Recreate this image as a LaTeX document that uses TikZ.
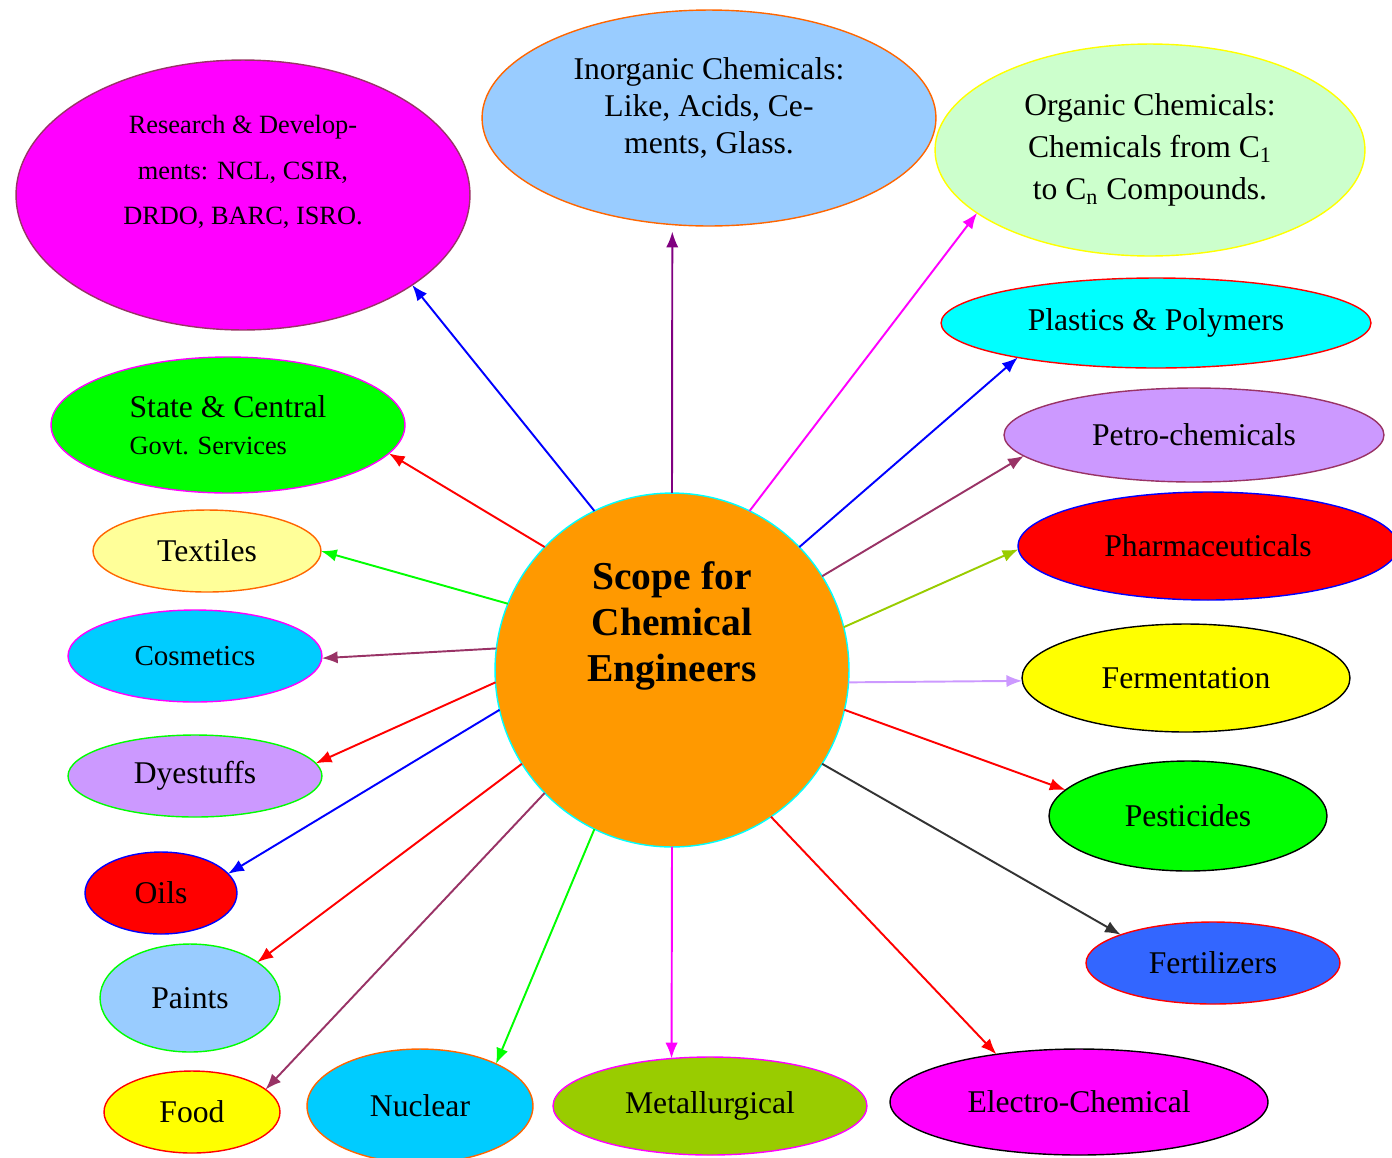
\documentclass[tikz,border=0pt]{standalone}
\usepackage{fontspec}
\setmainfont{Liberation Serif}
\usetikzlibrary{shapes.geometric, arrows.meta}
\definecolor{plum}{HTML}{993366}
\definecolor{skyblue}{HTML}{99CCFF}
\definecolor{mint}{HTML}{CCFFCC}
\definecolor{lilac}{HTML}{CC99FF}
\definecolor{leaf}{HTML}{99CC00}
\definecolor{royal}{HTML}{3366FF}
\definecolor{aqua}{HTML}{00CCFF}
\definecolor{cream}{HTML}{FFFF99}
\definecolor{amber}{HTML}{FF9900}
\definecolor{rust}{HTML}{FF6600}
\definecolor{grape}{HTML}{800080}
\definecolor{charcoal}{HTML}{333333}
\definecolor{brightgreen}{HTML}{00FF00}
\definecolor{fuchsia}{HTML}{FF00FF}
\definecolor{turquoise}{HTML}{00FFFF}
\definecolor{lemon}{HTML}{FFFF00}
\tikzstyle{bubble} = [draw, ellipse, line width=0.8pt, inner sep=0pt,
    outer sep=0pt, align=center, font=\fontsize{18}{21}\selectfont]
\tikzstyle{link} = [->, line width=1.1pt]

\begin{document}
\begin{tikzpicture}[x=0.02cm, y=-0.02cm, >={Latex[length=9pt,width=7pt]}]
    \useasboundingbox (0,0) rectangle (1392,1157);
    % hub
    \node [circle, draw=turquoise, fill=amber, line width=0.8pt, minimum size=7.08cm,
        inner sep=0pt, outer sep=0pt,
        label={[align=center, font=\bfseries\fontsize{22.5}{26}\selectfont, yshift=0.88cm]center:Scope for\\Chemical\\Engineers}]
        (scope) at (672,670) {};
    % upper ring
    \node [bubble, fill=fuchsia, draw=plum, minimum width=9.08cm, minimum height=5.4cm,
        label={[align=center, font=\fontsize{15}{26}\selectfont, yshift=0.46cm]center:Research \& Develop-\\ments: NCL, CSIR,\\DRDO, BARC, ISRO.}]
        (rnd) at (243,195) {};
    \node [bubble, fill=skyblue, draw=rust, minimum width=9.08cm, minimum height=4.32cm,
        label={[align=center, font=\fontsize{18}{21}\selectfont, yshift=0.2cm]center:Inorganic Chemicals:\\Like, Acids, Ce-\\ments, Glass.}]
        (inorg) at (709,118) {};
    \node [bubble, fill=mint, draw=lemon, minimum width=8.6cm, minimum height=4.24cm,
        font=\fontsize{18}{24}\selectfont]
        (org) at (1150,150) {Organic Chemicals:\\Chemicals from C\textsubscript{1}\\to C\textsubscript{n} Compounds.};
    % right side
    \node [bubble, fill=turquoise, draw=red, minimum width=8.6cm, minimum height=1.8cm] (plast) at (1156,323) {Plastics \& Polymers};
    \node [bubble, fill=lilac, draw=plum, minimum width=7.6cm, minimum height=1.88cm] (petro) at (1194,435) {Petro-chemicals};
    \node [bubble, fill=red, draw=blue, minimum width=7.6cm, minimum height=2.16cm] (pharma) at (1208,546) {Pharmaceuticals};
    \node [bubble, fill=lemon, draw=black, minimum width=6.56cm, minimum height=2.16cm] (ferment) at (1186,678) {Fermentation};
    \node [bubble, fill=brightgreen, draw=black, minimum width=5.56cm, minimum height=2.2cm] (pest) at (1188,816) {Pesticides};
    \node [bubble, fill=royal, draw=red, minimum width=5.08cm, minimum height=1.64cm] (fert) at (1213,963) {Fertilizers};
    % bottom row
    \node [bubble, fill=fuchsia, draw=black, minimum width=7.56cm, minimum height=2.12cm] (electro) at (1079,1102) {Electro-Chemical};
    \node [bubble, fill=leaf, draw=fuchsia, minimum width=6.28cm, minimum height=1.96cm] (metal) at (710,1106) {Metallurgical};
    \node [bubble, fill=aqua, draw=rust, minimum width=4.52cm, minimum height=2.28cm] (nuclear) at (420,1106) {Nuclear};
    \node [bubble, fill=lemon, draw=red, minimum width=3.52cm, minimum height=1.64cm] (food) at (192,1112) {Food};
    % left side
    \node [bubble, fill=skyblue, draw=brightgreen, minimum width=3.6cm, minimum height=2.16cm] (paints) at (190,998) {Paints};
    \node [bubble, fill=red, draw=blue, minimum width=3.04cm, minimum height=1.64cm] (oils) at (161,893) {Oils};
    \node [bubble, fill=lilac, draw=brightgreen, minimum width=5.08cm, minimum height=1.64cm] (dye) at (195,776) {Dyestuffs};
    \node [bubble, fill=aqua, draw=fuchsia, minimum width=5.08cm, minimum height=1.84cm,
        font=\fontsize{16.5}{20}\selectfont] (cosm) at (195,656) {Cosmetics};
    \node [bubble, fill=cream, draw=rust, minimum width=4.56cm, minimum height=1.64cm] (textile) at (207,551) {Textiles};
    \node [bubble, fill=brightgreen, draw=fuchsia, minimum width=7.08cm, minimum height=2.72cm,
        align=left] (govt) at (228,425) {State \& Central\\{\fontsize{15}{18}\selectfont Govt. Services}};
    % arrows out of the hub
    \draw [link, blue] (scope.116) -- (rnd.-28);
    \draw [link, grape, shorten >=0.14cm] (scope.90) -- (inorg.-109);
    \draw [link, fuchsia] (scope.64) -- (org.200);
    \draw [link, blue] (scope.44) -- (plast.194);
    \draw [link, plum] (scope.32) -- (petro.187);
    \draw [link, leaf] (scope.14) -- (pharma.181);
    \draw [link, lilac] (scope.-4) -- (ferment.181);
    \draw [link, red] (scope.-13) -- (pest.168);
    \draw [link, charcoal] (scope.-32) -- (fert.163);
    \draw [link, red] (scope.-56) -- (electro.150);
    \draw [link, fuchsia] (scope.-90) -- (metal.129);
    \draw [link, brightgreen] (scope.-116) -- (nuclear.29);
    \draw [link, plum] (scope.224) -- (food.17);
    \draw [link, red] (scope.212) -- (paints.28);
    \draw [link, blue] (scope.193) -- (oils.16);
    \draw [link, red] (scope.184) -- (dye.6);
    \draw [link, plum] (scope.173) -- (cosm.-1);
    \draw [link, brightgreen] (scope.158) -- (textile.0);
    \draw [link, red] (scope.136) -- (govt.-10);
\end{tikzpicture}
\end{document}
